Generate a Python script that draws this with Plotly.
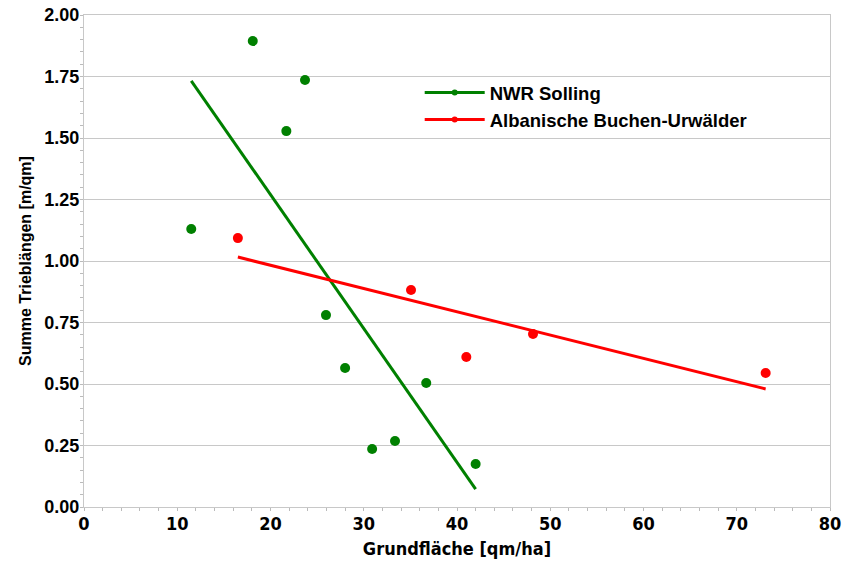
import plotly.graph_objects as go

# Data
solling_x = [11.5, 18.1, 23.7, 21.7, 25.95, 28.0, 30.9, 33.35, 36.7, 42.0]
solling_y = [1.13, 1.894, 1.736, 1.528, 0.78, 0.565, 0.236, 0.268, 0.504, 0.175]
alb_x = [16.5, 35.07, 41.0, 48.15, 73.1]
alb_y = [1.093, 0.882, 0.61, 0.703, 0.545]

solling_trend_x = [11.5, 42.0]
solling_trend_y = [1.732, 0.073]
alb_trend_x = [16.5, 73.1]
alb_trend_y = [1.016, 0.48]

x_ticks = [0, 10, 20, 30, 40, 50, 60, 70, 80]
y_ticks = [0, 0.25, 0.5, 0.75, 1.0, 1.25, 1.5, 1.75, 2.0]

green = "#008000"
red = "#ff0000"

fig = go.Figure()
fig.add_trace(go.Scatter(x=solling_x, y=solling_y, mode="markers",
                         marker=dict(color=green, size=10), showlegend=False))
fig.add_trace(go.Scatter(x=alb_x, y=alb_y, mode="markers",
                         marker=dict(color=red, size=10), showlegend=False))
fig.add_trace(go.Scatter(x=solling_trend_x, y=solling_trend_y, mode="lines",
                         line=dict(color=green, width=3), showlegend=False))
fig.add_trace(go.Scatter(x=alb_trend_x, y=alb_trend_y, mode="lines",
                         line=dict(color=red, width=3), showlegend=False))
# legend entries
fig.add_trace(go.Scatter(x=[None], y=[None], mode="lines+markers", name="<b>NWR Solling</b>",
                         line=dict(color=green, width=3), marker=dict(color=green, size=6)))
fig.add_trace(go.Scatter(x=[None], y=[None], mode="lines+markers", name="<b>Albanische Buchen-Urwälder</b>",
                         line=dict(color=red, width=3), marker=dict(color=red, size=6)))

fig.update_layout(
    width=844, height=562,
    margin=dict(l=84, r=14, t=15, b=55),
    plot_bgcolor="white", paper_bgcolor="white",
    font=dict(family="Liberation Sans", color="black"),
    legend=dict(x=0.45, y=0.88, xanchor="left", yanchor="top",
                bgcolor="rgba(0,0,0,0)", tracegroupgap=0,
                font=dict(family="Liberation Sans", size=18.5, color="black"),
                itemwidth=60),
    xaxis=dict(range=[0, 80], tickvals=x_ticks, ticktext=[f"<b>{v}</b>" for v in x_ticks],
               showgrid=False, zeroline=False, automargin=False,
               showline=True, linecolor="#c8c8c8", mirror=True, linewidth=1,
               ticks="", tickfont=dict(family="DejaVu Sans Condensed, Liberation Sans", size=18, color="black"),
               minor=dict(ticks="outside", ticklen=3, tickcolor="#bbbbbb", dtick=2),
               title=dict(text="<b>Grundfläche [qm/ha]</b>",
                          font=dict(family="DejaVu Sans Condensed, Liberation Sans", size=18), standoff=9)),
    yaxis=dict(range=[0, 2.0], tickvals=y_ticks, ticktext=[f"<b>{v:.2f}</b>" for v in y_ticks],
               showgrid=True, gridcolor="#c8c8c8", gridwidth=1, zeroline=False, automargin=False,
               showline=True, linecolor="#c8c8c8", mirror=True, linewidth=1,
               ticks="", tickfont=dict(family="Liberation Sans", size=18, color="black"),
               minor=dict(ticks="outside", ticklen=3, tickcolor="#bbbbbb", dtick=0.05),
               title=dict(text="<b>Summe Trieblängen [m/qm]</b>",
                          font=dict(family="Liberation Sans", size=16), standoff=8)),
)

fig.write_html("out.html")
